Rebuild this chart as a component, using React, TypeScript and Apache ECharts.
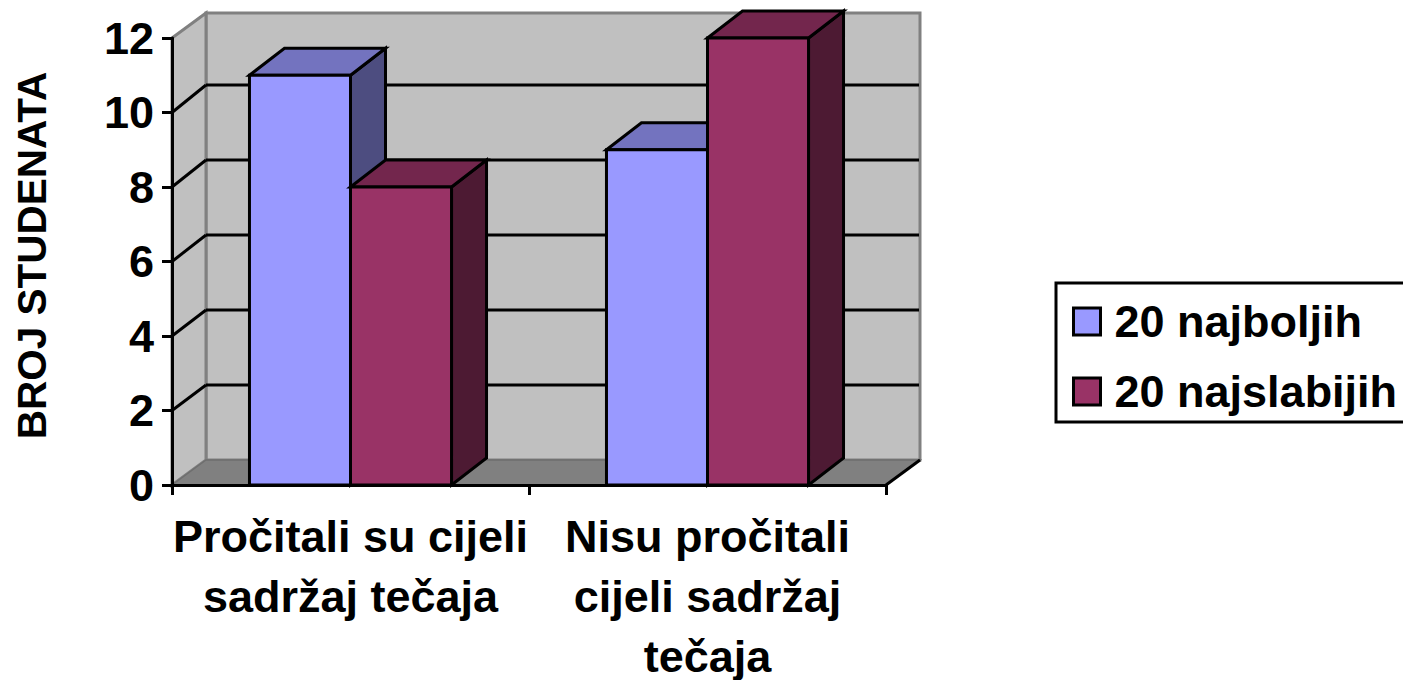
import React, { useEffect, useRef } from "react";
import * as echarts from "echarts";

const categories = ["Pročitali su cijeli\nsadržaj tečaja", "Nisu pročitali\ncijeli sadržaj\ntečaja"];
const seriesNames = ["20 najboljih", "20 najslabijih"];
const najboljih = [11, 9];
const najslabijih = [8, 12];
const yTicks = [0, 2, 4, 6, 8, 10, 12];
const axisTitle = "BROJ STUDENATA";

const FONT = '"Liberation Sans", Arial, sans-serif';
const WALL_DX = 34;
const WALL_DY = 25;
const BACK_SCALE = 1.0067;
const BAR_DX = 35;
const BAR_DY = 27;
const BAR_RATIO = 0.283;
const LW = 3;

const poly = (points: number[][], fill: string, stroke = "#000", lineWidth = LW) => ({
  type: "polygon",
  shape: { points },
  style: { fill, stroke, lineWidth, lineJoin: "miter" },
});
const seg = (a: number[], b: number[], stroke: string, lineWidth = LW) => ({
  type: "line",
  shape: { x1: a[0], y1: a[1], x2: b[0], y2: b[1] },
  style: { stroke, lineWidth },
});

const renderWalls = (params: any, api: any) => {
  const cs = params.coordSys;
  const x0 = cs.x;
  const x1 = cs.x + cs.width;
  const yBottom = cs.y + cs.height;
  const yTop = cs.y;
  const gray = "#808080";
  const children: any[] = [
    poly([[x0 + WALL_DX, yTop - WALL_DY], [x1 + WALL_DX, yTop - WALL_DY], [x1 + WALL_DX, yBottom - WALL_DY], [x0 + WALL_DX, yBottom - WALL_DY]], "#C0C0C0", gray, 3),
    poly([[x0, yTop], [x0 + WALL_DX, yTop - WALL_DY], [x0 + WALL_DX, yBottom - WALL_DY], [x0, yBottom]], "#C0C0C0", gray, 3),
    poly([[x0, yBottom], [x0 + WALL_DX, yBottom - WALL_DY], [x1 + WALL_DX, yBottom - WALL_DY], [x1, yBottom]], gray, "#6E6E6E", 1.5),
    seg([x1, yBottom], [x1 + WALL_DX, yBottom - WALL_DY], "#000"),
  ];
  yTicks.slice(1, -1).forEach((v) => {
    const y = api.coord([0, v])[1];
    const yBack = yBottom - WALL_DY + (y - yBottom) * BACK_SCALE;
    children.push(seg([x0, y], [x0 + WALL_DX, yBack], "#000"));
    children.push(seg([x0 + WALL_DX, yBack], [x1 + WALL_DX - 1, yBack], "#000"));
  });
  return { type: "group", children };
};

const makeBar = (side: number, front: string, top: string, right: string) => (_p: any, api: any) => {
  const cat = api.value(0);
  const val = api.value(1);
  const pTop = api.coord([cat, val]);
  const pBase = api.coord([cat, 0]);
  const w = api.size([1, 0])[0] * BAR_RATIO;
  const xa = pTop[0] + (side < 0 ? -w : 0);
  const xb = xa + w;
  const yt = pTop[1];
  const yb = pBase[1];
  return {
    type: "group",
    children: [
      poly([[xb, yb], [xb + BAR_DX, yb - BAR_DY], [xb + BAR_DX, yt - BAR_DY], [xb, yt]], right),
      poly([[xa, yt], [xa + BAR_DX, yt - BAR_DY], [xb + BAR_DX, yt - BAR_DY], [xb, yt]], top),
      poly([[xa, yt], [xb, yt], [xb, yb], [xa, yb]], front),
    ],
  };
};

export default function App() {
  const ref = useRef<HTMLDivElement>(null);
  useEffect(() => {
    const chart = echarts.init(ref.current!, undefined, { renderer: "svg" });
    chart.setOption({
      animation: false,
      backgroundColor: "#fff",
      grid: { left: 172, top: 38, width: 714, height: 447, outerBoundsMode: "none" },
      xAxis: {
        type: "category",
        data: categories,
        z: 10,
        axisLine: { lineStyle: { color: "#000", width: LW } },
        axisTick: { show: true, alignWithLabel: false, length: 10, lineStyle: { color: "#000", width: LW } },
        axisLabel: { interval: 0, color: "#000", fontFamily: FONT, fontWeight: "bold", fontSize: 45, lineHeight: 60, margin: 21 },
      },
      yAxis: {
        type: "value",
        min: 0,
        max: 12,
        interval: 2,
        z: 10,
        name: axisTitle,
        nameLocation: "middle",
        nameRotate: 90,
        nameGap: 120,
        nameTextStyle: { color: "#000", fontFamily: FONT, fontWeight: "bold", fontSize: 40.5, padding: [0, 0, 0, 12] },
        splitLine: { show: false },
        axisLine: { show: true, lineStyle: { color: "#000", width: LW } },
        axisTick: { show: true, length: 10, lineStyle: { color: "#000", width: LW } },
        axisLabel: { color: "#000", fontFamily: FONT, fontWeight: "bold", fontSize: 45, margin: 18, padding: [3, 0, 0, 0] },
      },
      legend: {
        orient: "vertical",
        left: 1056,
        top: 283,
        data: seriesNames.map((name, i) => ({
          name,
          icon: "rect",
          itemStyle: { color: i === 0 ? "#9999FF" : "#993366", borderColor: "#000", borderWidth: LW },
        })),
        selectedMode: false,
        itemWidth: 27,
        itemHeight: 27,
        itemGap: 25,
        padding: [16, 12, 8, 16],
        borderColor: "#000",
        borderWidth: 3,
        backgroundColor: "#fff",
        textStyle: { color: "#000", fontFamily: FONT, fontWeight: "bold", fontSize: 45, padding: [0, 0, 0, 9] },
      },
      series: [
        { type: "custom", name: "walls", silent: true, z: 1, data: [[0, 0]], encode: { x: 0, y: 1 }, renderItem: renderWalls, clip: false },
        {
          type: "custom",
          name: seriesNames[0],
          z: 3,
          clip: false,
          itemStyle: { color: "#9999FF" },
          encode: { x: 0, y: 1 },
          data: najboljih.map((v, i) => [i, v]),
          renderItem: makeBar(-1, "#9999FF", "#7373BF", "#4D4D80"),
        },
        {
          type: "custom",
          name: seriesNames[1],
          z: 4,
          clip: false,
          itemStyle: { color: "#993366" },
          encode: { x: 0, y: 1 },
          data: najslabijih.map((v, i) => [i, v]),
          renderItem: makeBar(1, "#993366", "#73264D", "#4D1A33"),
        },
      ],
    });
    return () => chart.dispose();
  }, []);
  return <div ref={ref} style={{ position: "fixed", left: 0, top: 0, width: 1403, height: 680 }} />;
}
